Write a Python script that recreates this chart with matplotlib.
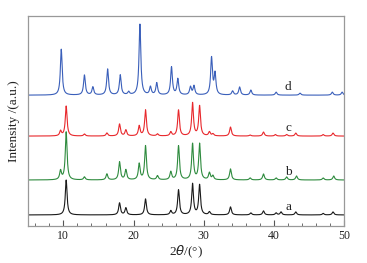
import numpy as np
import matplotlib.pyplot as plt
from matplotlib.ticker import MultipleLocator

# peak positions (2theta) and heights
pos_a = [10.4, 18.0, 18.9, 21.7, 25.3, 26.4, 28.4, 29.4, 30.8, 33.8, 36.7, 38.5, 40.3, 41.0, 43.1, 47.0, 48.4]
hgt_a = [35, 12, 7, 16, 4, 25, 31, 30, 3, 8, 2, 4, 2, 3, 3, 1.5, 3]

pos_b = [9.6, 10.4, 13.0, 16.2, 18.0, 18.9, 20.8, 21.7, 23.4, 25.3, 26.4, 28.4, 29.4, 30.8, 31.3, 33.8, 36.6, 38.5, 40.3, 41.8, 43.2, 47.0, 48.5]
hgt_b = [9, 48, 3, 6, 18, 10, 16, 34, 4, 8, 34, 36, 36, 7, 4, 11, 2, 6, 2, 3, 4, 2, 4]

pos_c = [9.6, 10.4, 13.0, 16.2, 18.0, 18.9, 20.8, 21.7, 23.4, 25.3, 26.4, 28.4, 29.4, 30.8, 31.3, 33.8, 36.6, 38.5, 40.2, 41.8, 43.1, 47.0, 48.4]
hgt_c = [5, 30, 2, 3, 12, 6, 10, 26, 2, 4, 26, 33, 30, 4, 2, 9, 1, 4, 1.5, 1.5, 3, 1.5, 3]

pos_d = [9.7, 13.0, 14.2, 16.3, 18.1, 19.3, 20.9, 22.4, 23.3, 25.4, 26.3, 28.1, 28.6, 31.1, 31.6, 34.1, 35.1, 36.7, 40.3, 43.7, 48.3, 49.7]
hgt_d = [46, 20, 8, 26, 20, 3, 71, 8, 12, 28, 16, 8, 9, 37, 21, 4, 8, 5, 3, 2, 3, 3]

offsets = [11, 46, 90, 131]
labels = ['a', 'b', 'c', 'd']
colors = ['#1a1a1a', '#2e8b3e', '#e8282c', '#3a5fba']


def pattern(x, pos, hgt, w=0.15):
    y = np.zeros_like(x)
    for p, h in zip(pos, hgt):
        y += h * w ** 2 / ((x - p) ** 2 + w ** 2)
    return y


x = np.linspace(5, 50, 3000)

plt.rcParams['font.family'] = ['Liberation Serif', 'DejaVu Serif']
fig = plt.figure(figsize=(3.67, 2.63), dpi=100)
ax = fig.add_axes([0.077, 0.141, 0.861, 0.797])

for pos, hgt, off, c, lab in zip([pos_a, pos_b, pos_c, pos_d], [hgt_a, hgt_b, hgt_c, hgt_d],
                                  offsets, colors, labels):
    ax.plot(x, pattern(x, pos, hgt) + off, color=c, lw=0.8)
    ax.text(42, off + 2, lab, fontsize=9.5, ha='center', va='bottom', color='#222')

ax.set_xlim(5, 50)
ax.set_ylim(0, 210)
ax.xaxis.set_major_locator(MultipleLocator(10))
ax.xaxis.set_minor_locator(MultipleLocator(2))
ax.tick_params(axis='x', which='both', direction='in', labelsize=8.5, colors='#555', labelcolor='#222', pad=3)
ax.tick_params(axis='x', which='major', length=4)
ax.tick_params(axis='x', which='minor', length=2.5)
ax.set_yticks([])
for s in ax.spines.values():
    s.set_color('#999')
    s.set_linewidth(0.9)

ax.set_xlabel(r'2$\it{\theta}$/(°)', fontsize=9.5, labelpad=1, color='#222')
ax.set_ylabel('Intensity /(a.u.)', fontsize=9.5, labelpad=6, color='#222')

fig.savefig('out.png', dpi=100)
